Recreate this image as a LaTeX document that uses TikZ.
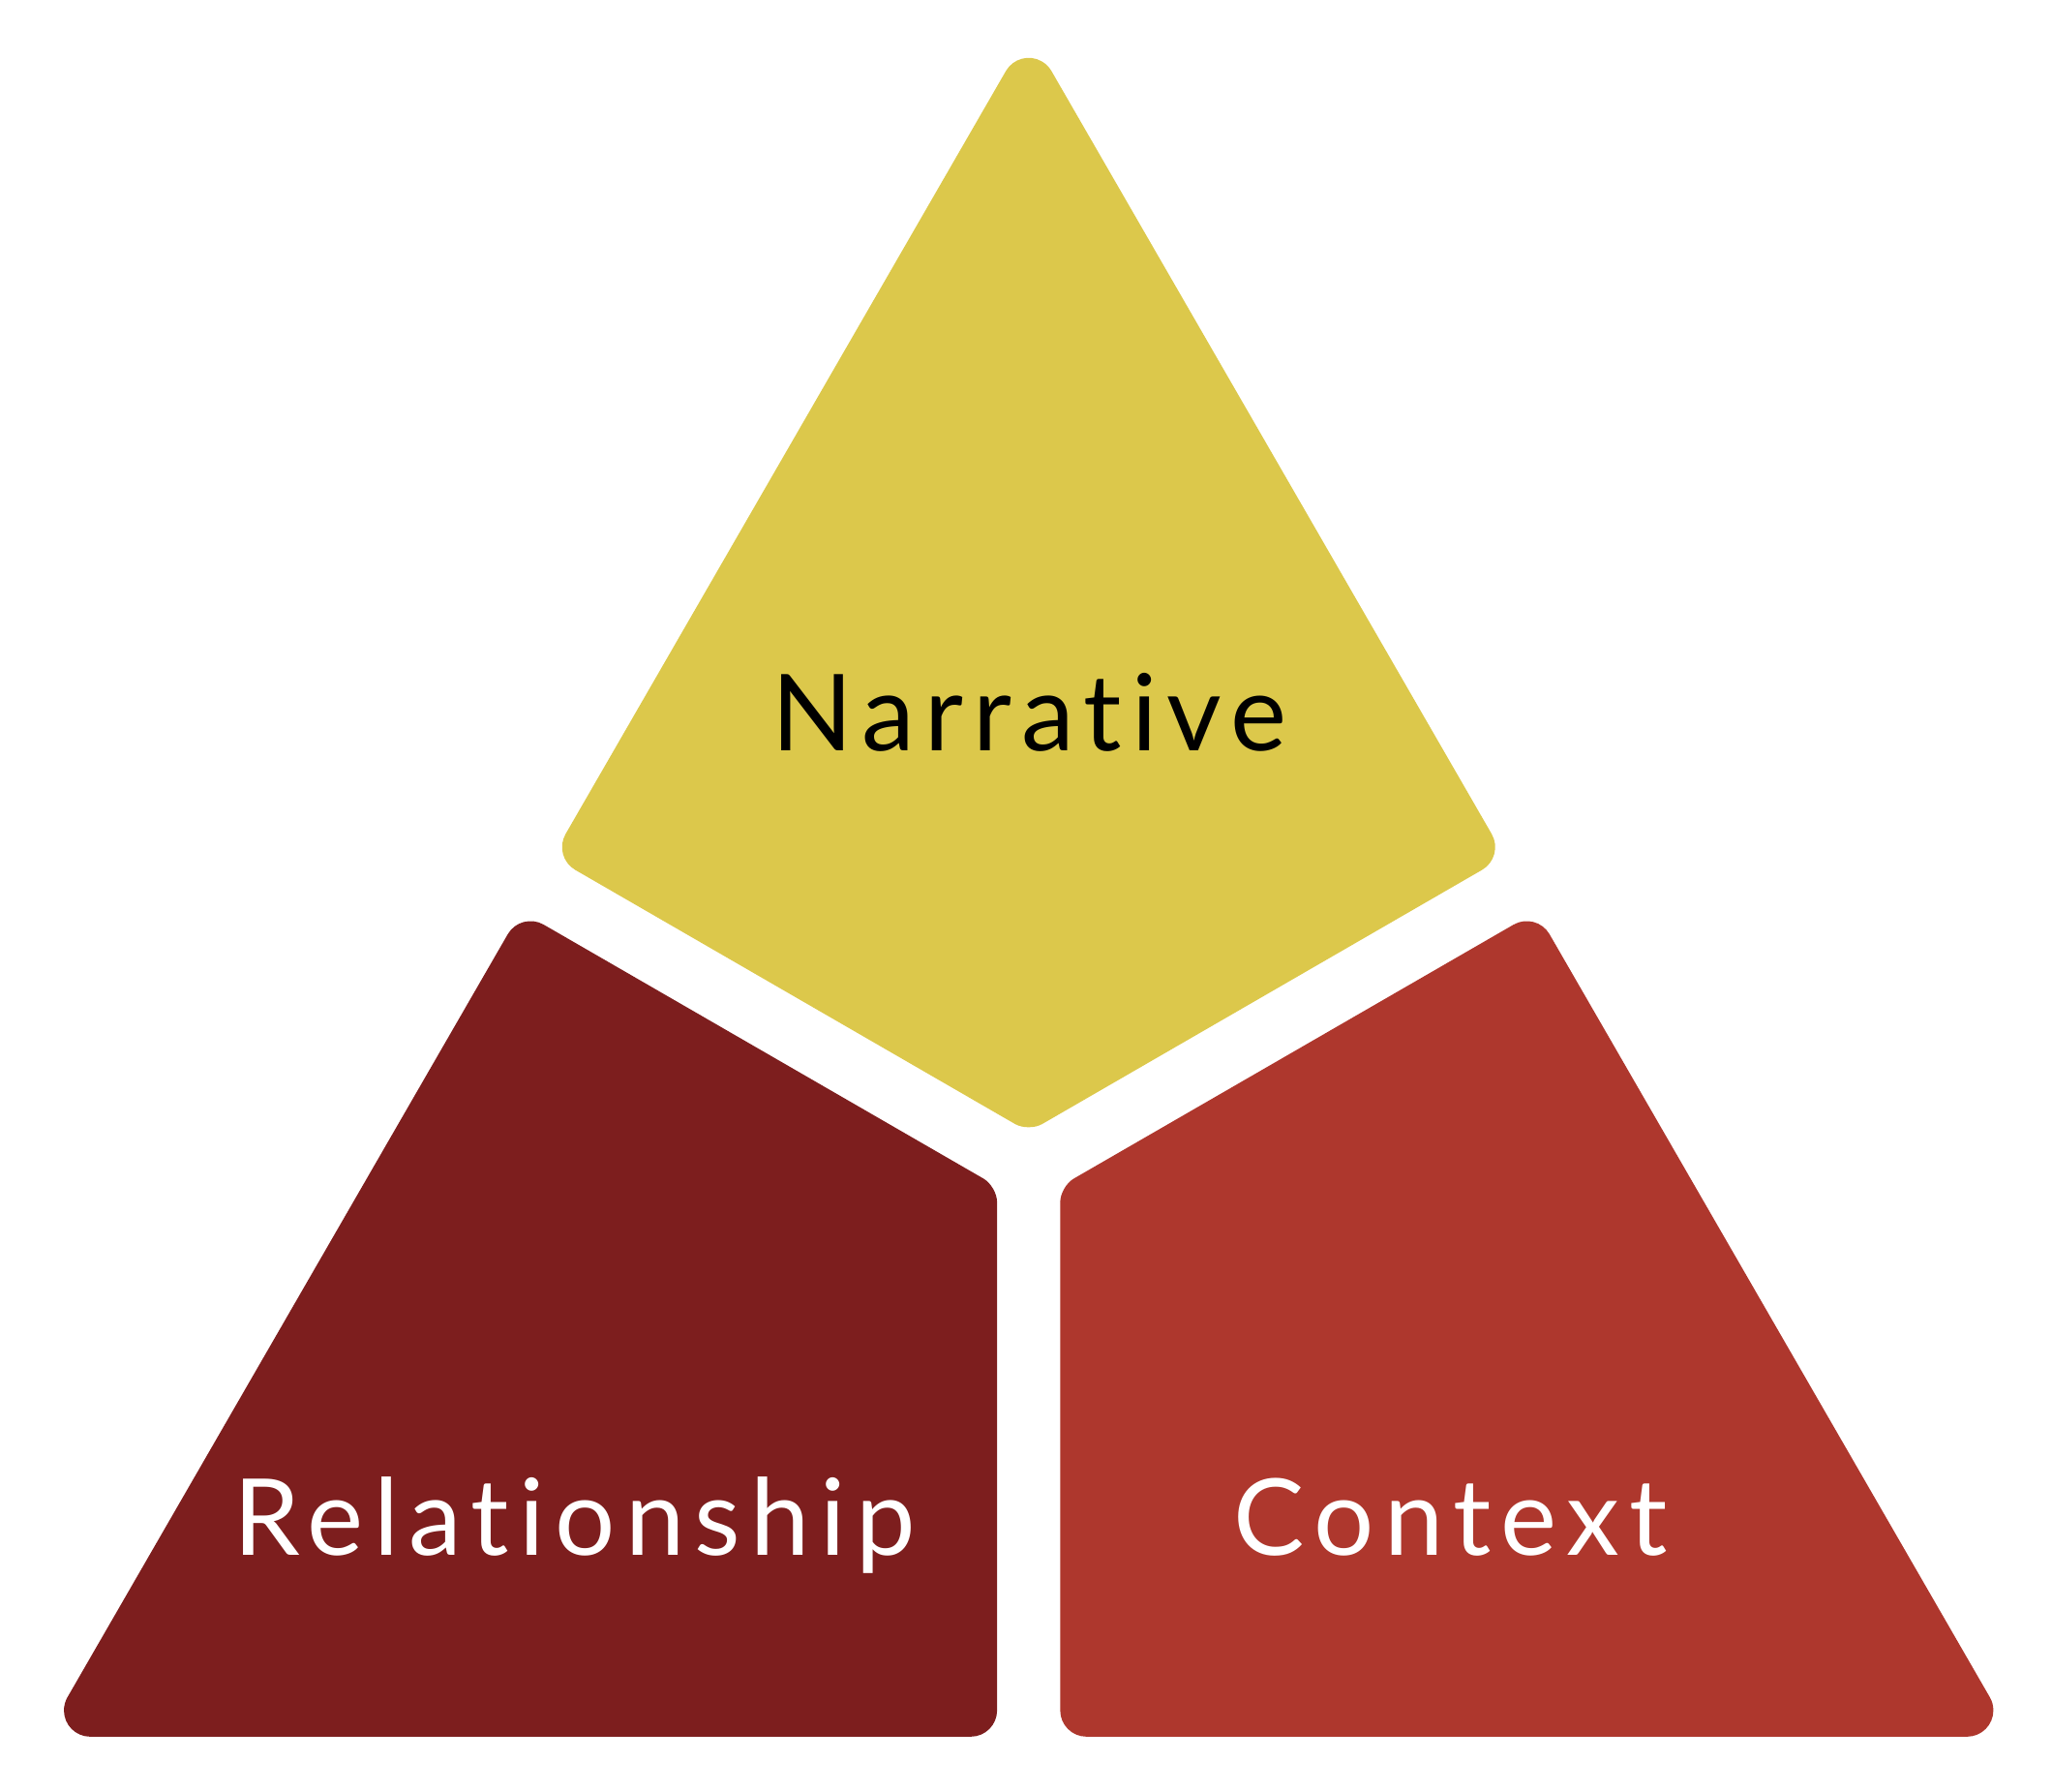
\documentclass[tikz,border=0pt]{standalone}
\usepackage{fontspec}
\setmainfont{Lato}[LetterSpace=9.5, Ligatures={NoCommon}]
\definecolor{amarillo}{HTML}{DCC84B}
\definecolor{granate}{HTML}{7D1E1E}
\definecolor{rojo}{HTML}{AE372D}
\tikzset{
    etiqueta/.style={anchor=base, inner sep=0pt, font=\fontsize{23}{27}\selectfont},
    pieza/.style={draw=none}
}

\begin{document}
\begin{tikzpicture}[x=0.1mm, y=-0.1mm] % 1 unidad = 0.1mm, eje y hacia abajo
    \useasboundingbox (0,0) rectangle (1560,1362); % Margenes
    % Pieza superior (punta redondeada con arco de radio 20)
    \fill[pieza, amarillo] (764.7,54) arc[start angle=210, end angle=330, radius=20]
        [rounded corners=2mm] -- (1144,651.2) [rounded corners=1.2mm]
        -- (782,860.3) [rounded corners=2mm] -- (420,651.2) [sharp corners] -- cycle;
    % Pieza izquierda
    \fill[pieza, granate] (51.3,1290) [rounded corners=2mm] -- (396,692.8)
        [rounded corners=1.2mm] -- (758,901.8) [rounded corners=2mm]
        -- (758,1320) [sharp corners] -- (68.6,1320)
        arc[start angle=90, end angle=210, radius=20] -- cycle;
    % Pieza derecha
    \fill[pieza, rojo] (1512.7,1290) [rounded corners=2mm] -- (1168,692.8)
        [rounded corners=1.2mm] -- (806,901.8) [rounded corners=2mm]
        -- (806,1320) [sharp corners] -- (1495.4,1320)
        arc[start angle=90, end angle=-30, radius=20] -- cycle;
    % Textos
    \node[etiqueta, black] (narrativa) at (782.5,571) {Narrative};
    \node[etiqueta, white] (relacion) at (437,1182) {Relationship};
    \node[etiqueta, white] (contexto) at (1103,1182) {Context};
\end{tikzpicture}
\end{document}
